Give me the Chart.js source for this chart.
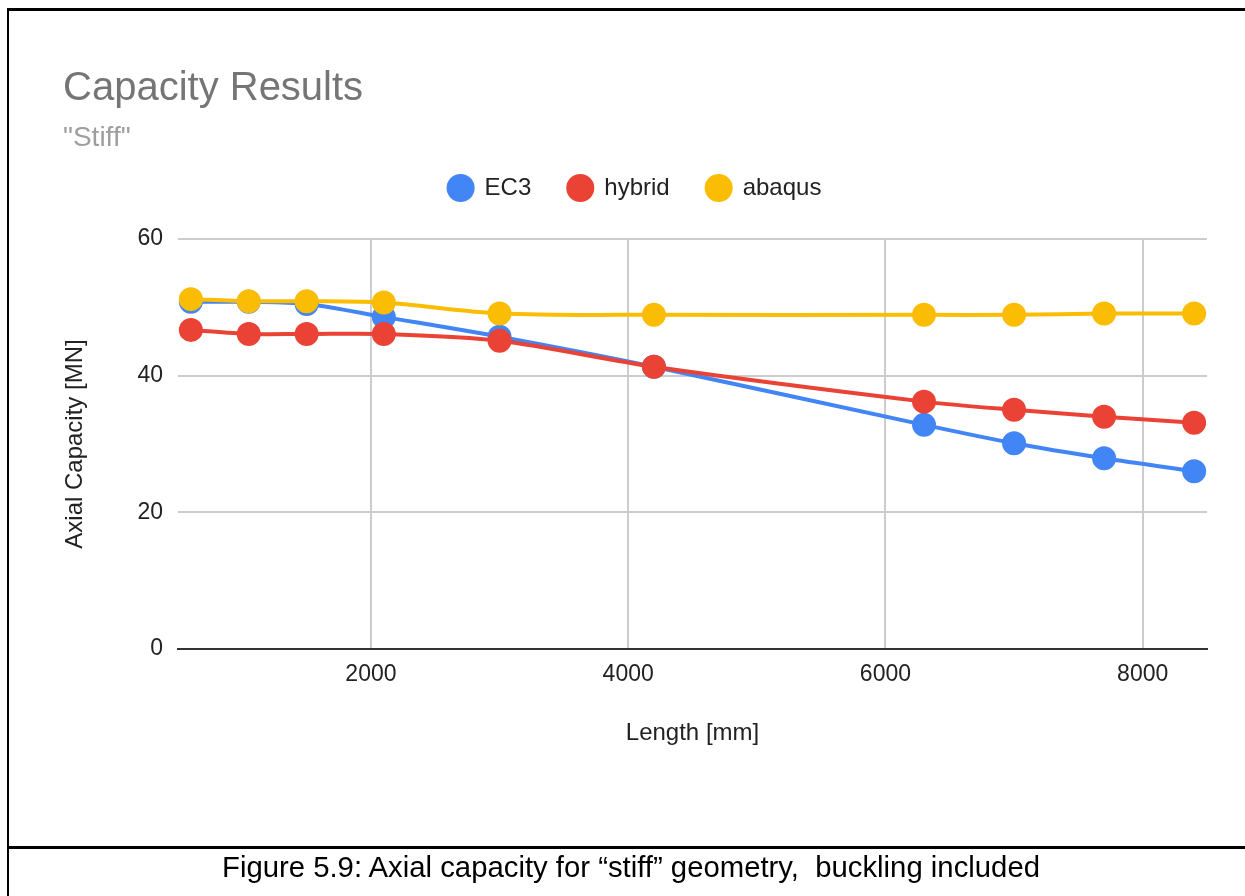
<!DOCTYPE html>
<html>
<head>
<meta charset="utf-8">
<script src="https://cdn.jsdelivr.net/npm/chart.js@4.4.1/dist/chart.umd.min.js"></script>
<style>
html, body { margin:0; padding:0; background:#fff; }
body { width:1245px; height:896px; position:relative; overflow:hidden; font-family:"Liberation Sans", Arial, sans-serif; }
#chart { position:absolute; left:0; top:0; }
.rule { position:absolute; background:#000; }
#title { position:absolute; left:63px; top:66px; font-size:40px; line-height:40px; color:#757575; white-space:nowrap; }
#subtitle { position:absolute; left:63px; top:123px; font-size:28px; line-height:28px; color:#9e9e9e; white-space:nowrap; }
#caption { position:absolute; left:0; width:1262px; top:851px; font-size:29.3px; line-height:32px; text-align:center; color:#000; white-space:nowrap; }
</style>
</head>
<body>
<canvas id="chart" width="1245" height="896"></canvas>
<div id="title">Capacity Results</div>
<div id="subtitle">"Stiff"</div>
<div class="rule" style="left:8px;top:8px;width:1237px;height:3px"></div>
<div class="rule" style="left:7px;top:8px;width:2px;height:888px"></div>
<div class="rule" style="left:8px;top:846px;width:1237px;height:3px"></div>
<div id="caption">Figure 5.9: Axial capacity for “stiff” geometry,&nbsp; buckling included</div>
<script>
// member lengths [mm]
var lengths = [600, 1050, 1500, 2100, 3000, 4200, 6300, 7000, 7700, 8400];

// axial capacity [MN]
var ec3    = [50.8, 50.8, 50.5, 48.6, 45.7, 41.3, 32.8, 30.1, 27.9, 26.0];
var hybrid = [46.7, 46.1, 46.1, 46.1, 45.1, 41.3, 36.2, 35.0, 34.0, 33.1];
var abaqus = [51.2, 50.9, 50.9, 50.7, 49.1, 48.9, 48.9, 48.9, 49.1, 49.1];

var xTicks = [2000, 4000, 6000, 8000];
var yTicks = [0, 20, 40, 60];

function pts(ys){
  return lengths.map(function(x,i){ return {x:x, y:ys[i]}; });
}

// order: higher number is drawn first (underneath)
function series(label, ys, color, order){
  return {
    label: label,
    data: pts(ys),
    order: order,
    borderColor: color,
    backgroundColor: color,
    pointBackgroundColor: color,
    pointBorderColor: color,
    borderWidth: 4,
    pointRadius: 10,
    pointHoverRadius: 10,
    tension: 0.3
  };
}

var font = "'Liberation Sans', Arial, sans-serif";

// extra room between the legend and the plot
var legendGap = {
  id: "legendGap",
  afterInit: function(chart){
    var lg = chart.legend;
    var fit = lg.fit;
    lg.fit = function(){
      fit.call(this);
      this.height += 29;
    };
  }
};

new Chart(document.getElementById("chart"), {
  type: "line",
  data: {
    datasets: [
      series("EC3", ec3, "#4285F4", 3),
      series("hybrid", hybrid, "#EA4335", 2),
      series("abaqus", abaqus, "#FBBC04", 1)
    ]
  },
  options: {
    responsive: false,
    animation: false,
    layout: { padding: { left: 63, right: 38, top: 139, bottom: 137 } },
    plugins: {
      tooltip: { enabled: false },
      legend: {
        position: "top",
        labels: {
          usePointStyle: true,
          pointStyle: "circle",
          boxWidth: 24,
          boxHeight: 17,
          padding: 37,
          color: "#222",
          font: { family: font, size: 24 },
          sort: function(a,b){ return a.datasetIndex - b.datasetIndex; }
        }
      }
    },
    scales: {
      x: {
        type: "linear",
        min: 500,
        max: 8500,
        afterBuildTicks: function(s){ s.ticks = xTicks.map(function(v){ return {value:v}; }); },
        afterFit: function(s){ s.height = 110; },
        grid: { color: "#cccccc", lineWidth: 2, drawTicks: false },
        border: { display: true, color: "#333", width: 2 },
        ticks: {
          color: "#222", padding: 12, font: { family: font, size: 23 },
          callback: function(v){ return String(v); }
        },
        title: { display: true, text: "Length [mm]", color: "#222", padding: { top: 0, bottom: 11 }, font: { family: font, size: 24 } }
      },
      y: {
        min: 0,
        max: 60,
        afterBuildTicks: function(s){ s.ticks = yTicks.map(function(v){ return {value:v}; }); },
        afterFit: function(s){ s.width = 115; },
        grid: {
          color: function(c){ return c.tick && c.tick.value === 0 ? "rgba(0,0,0,0)" : "#cccccc"; },
          lineWidth: 2,
          drawTicks: false
        },
        border: { display: false },
        ticks: { color: "#222", padding: 15, font: { family: font, size: 23 } },
        title: { display: true, text: "Axial Capacity [MN]", color: "#222", padding: 0, font: { family: font, size: 24, lineHeight: 1 } }
      }
    }
  },
  plugins: [legendGap]
});
</script>
</body>
</html>
